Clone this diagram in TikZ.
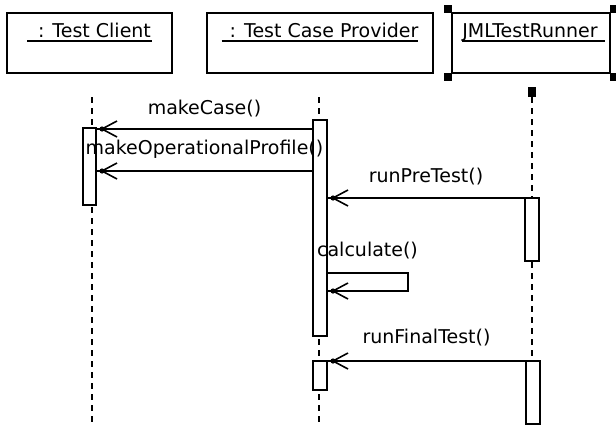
\documentclass[tikz,border=0pt]{standalone}
\usepackage{fontspec}
\setmainfont{DejaVu Sans}
\begin{document}
\begin{tikzpicture}[x=1pt,y=-1pt,
  every node/.style={font=\fontsize{19}{21}\selectfont, inner sep=0pt, outer sep=0pt},
  objbox/.style={draw, line width=2pt, minimum width=#1, minimum height=60pt},
  actbar/.style={draw, fill=white, line width=2pt, minimum width=13pt, minimum height=#1},
  lifeline/.style={line width=2pt, dash pattern=on 6pt off 5pt},
  msg/.style={line width=2pt},
  lbl/.style={anchor=base},
  uline/.style={line width=2pt},
  handle/.style={fill=black, minimum size=8pt},
  barb/.pic={\draw[line width=1.6pt] (15,-8) -- (0,0) -- (15,8); \fill (0,0) circle (2.6pt);}
]
\useasboundingbox (0,0) rectangle (616,426);

% object boxes
\node[objbox=165pt] (client) at (89.5,43) {};
\node[objbox=226pt] (provider) at (320,43) {};
\node[objbox=158pt] (runner) at (531,43) {};

% selection handles around the runner
\node[handle, anchor=south east] (h1) at (runner.north west) {};
\node[handle, anchor=south west] (h2) at (runner.north east) {};
\node[handle, anchor=north east] (h3) at (runner.south west) {};
\node[handle, anchor=north west] (h4) at (runner.south east) {};

% object names
\node[lbl] (tc) at (94.5,37) {: Test Client};
\node[lbl] (tp) at (324,37) {: Test Case Provider};
\node[lbl] (tr) at (530,37) {JMLTestRunner};
\draw[uline] ([shift={(-11,4)}]tc.base west) -- ([shift={(1,4)}]tc.base east);
\draw[uline] ([shift={(-8,4)}]tp.base west) -- ([shift={(0,4)}]tp.base east);
\draw[uline] ([shift={(0,4)}]tr.base west) -- ([shift={(7,4)}]tr.base east);

% lifelines
\coordinate (cTop) at (92,97);
\coordinate (cEnd) at (92,426);
\coordinate (pTop) at (319,97);
\coordinate (pEnd) at (319,426);
\node[fill=black, minimum width=8pt, minimum height=10pt] (rTop) at (532,92) {};
\coordinate (rEnd) at (532,426);
\draw[lifeline] (cTop) -- (cEnd);
\draw[lifeline] (pTop) -- (pEnd);
\draw[lifeline] (rTop.south) -- (rEnd);

% activation bars
\node[actbar=77pt] (cbar) at (89.5,166.5) {};
\node[actbar=216pt, minimum width=14pt] (pbar1) at (320,228) {};
\node[actbar=29pt, minimum width=14pt] (pbar2) at (320,375.5) {};
\node[actbar=63pt, minimum width=14pt] (rbar1) at (532,229.5) {};
\node[actbar=63pt, minimum width=14pt] (rbar2) at (533,392.5) {};

% messages
\draw[msg] (pbar1.west |- 0,129) -- node[lbl, yshift=15pt] {makeCase()} (cbar.east |- 0,129) ++(6,0) pic {barb};
\draw[msg] (pbar1.west |- 0,171) -- node[lbl, yshift=17pt] {makeOperationalProfile()} (cbar.east |- 0,171) ++(6,0) pic {barb};
\draw[msg] (rbar1.north west) -- node[lbl, yshift=16pt] {runPreTest()} (pbar1.east |- rbar1.north) ++(6,0) pic {barb};
\coordinate (calcR) at (408,273);
\draw[msg] (pbar1.east |- calcR) -- node[lbl, yshift=17pt] {calculate()} (calcR) |- (pbar1.east |- 0,291) ++(6,0) pic {barb};
\draw[msg] (rbar2.north west) -- node[lbl, yshift=18pt] {runFinalTest()} (pbar2.north east) ++(6,0) pic {barb};
\end{tikzpicture}
\end{document}
